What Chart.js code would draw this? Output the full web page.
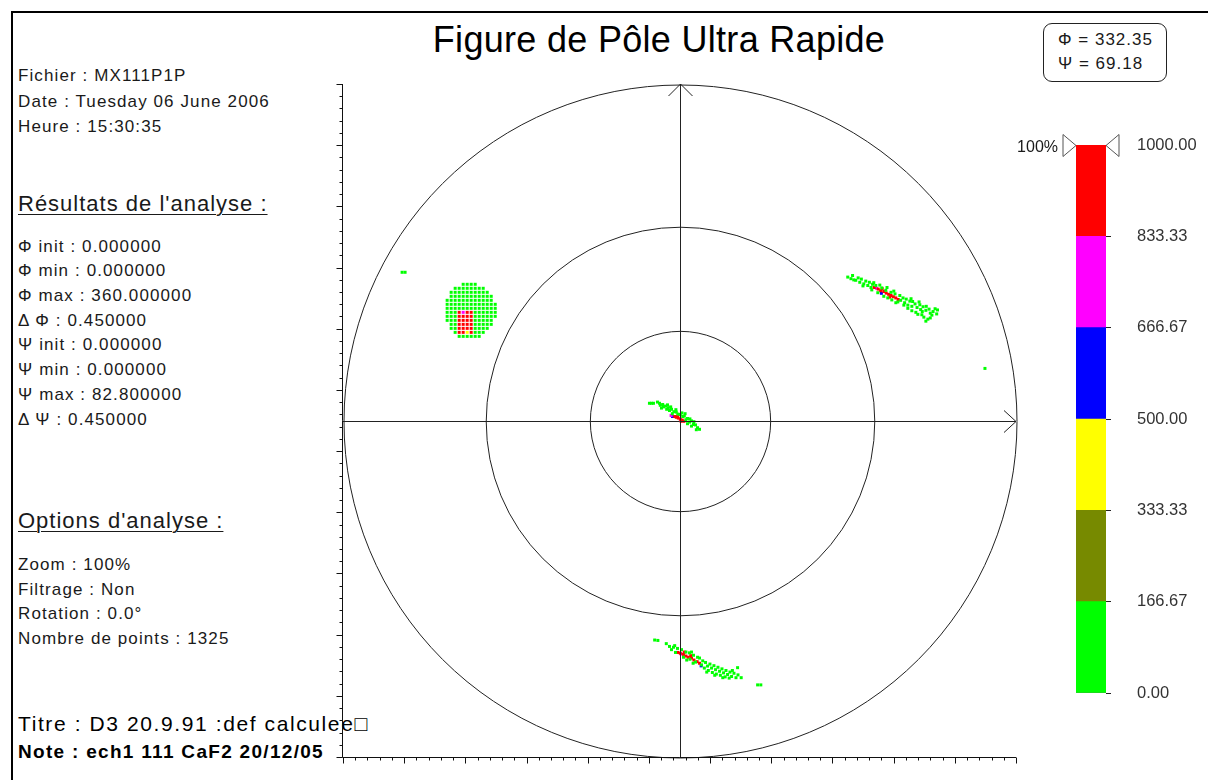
<!DOCTYPE html>
<html lang="fr">
<head>
<meta charset="utf-8">
<title>Figure de Pôle Ultra Rapide</title>
<script src="https://cdn.jsdelivr.net/npm/chart.js@4.4.1/dist/chart.umd.min.js"></script>
<style>
    html, body { margin: 0; padding: 0; background: #fff; }
    body {
        width: 1208px; height: 780px; position: relative; overflow: hidden;
        font-family: "Liberation Sans", Arial, sans-serif; color: #1a1a1a;
    }
    .frame {
        position: absolute; left: 11px; top: 11px; width: 1220px; height: 800px;
        border-left: 2px solid #000; border-top: 2px solid #000;
    }
    .t { position: absolute; white-space: nowrap; line-height: 1; }
    .small { font-size: 17px; letter-spacing: 1.1px; }
    .head { font-size: 22px; letter-spacing: 1px; text-decoration: underline; text-decoration-thickness: 1px; text-underline-offset: 3px; }
    .title { font-size: 36px; letter-spacing: 0.3px; left: 659px; transform: translateX(-50%); top: 22px; color: #000; }
    .titre { font-size: 21px; letter-spacing: 1.6px; color: #000; }
    .note { font-size: 19px; letter-spacing: 1.3px; font-weight: bold; color: #000; }
    .cursor {
        position: absolute; left: 1043px; top: 23px; width: 122px; height: 57px;
        border: 1px solid #222; border-radius: 9px;
    }
    canvas { position: absolute; }
    #pole { left: 300px; top: 60px; }
    #scale { left: 1000px; top: 120px; }
</style>
</head>
<body>
<div class="frame"></div>

<div class="t title">Figure de Pôle Ultra Rapide</div>

<div class="t small" style="left:18px;top:67px">Fichier : MX111P1P</div>
<div class="t small" style="left:18px;top:93px">Date : Tuesday 06 June 2006</div>
<div class="t small" style="left:18px;top:118px">Heure : 15:30:35</div>

<div class="t head" style="left:18px;top:193px">Résultats de l'analyse :</div>
<div class="t small" style="left:18px;top:237.6px">Φ init : 0.000000</div>
<div class="t small" style="left:18px;top:262.3px">Φ min : 0.000000</div>
<div class="t small" style="left:18px;top:287px">Φ max : 360.000000</div>
<div class="t small" style="left:18px;top:311.7px">Δ Φ : 0.450000</div>
<div class="t small" style="left:18px;top:336.4px">Ψ init : 0.000000</div>
<div class="t small" style="left:18px;top:361.1px">Ψ min : 0.000000</div>
<div class="t small" style="left:18px;top:385.8px">Ψ max : 82.800000</div>
<div class="t small" style="left:18px;top:410.5px">Δ Ψ : 0.450000</div>

<div class="t head" style="left:18px;top:510.4px">Options d'analyse :</div>
<div class="t small" style="left:18px;top:556px">Zoom : 100%</div>
<div class="t small" style="left:18px;top:580.6px">Filtrage : Non</div>
<div class="t small" style="left:18px;top:605.2px">Rotation : 0.0°</div>
<div class="t small" style="left:18px;top:629.6px">Nombre de points : 1325</div>

<div class="t titre" style="left:18px;top:713px">Titre : D3 20.9.91 :def calculee□</div>
<div class="t note" style="left:18px;top:742px">Note : ech1 111 CaF2 20/12/05</div>

<div class="cursor"></div>
<div class="t small" style="left:1058px;top:30.6px;letter-spacing:1px">Φ = 332.35</div>
<div class="t small" style="left:1058px;top:54.6px;letter-spacing:1px">Ψ = 69.18</div>

<canvas id="pole" width="740" height="720"></canvas>
<canvas id="scale" width="208" height="600"></canvas>

<script>
// projected coordinates, outer circle (Ψ = 90°) has radius 84
const AXIS_MIN = -84;
const AXIS_MAX = 84;
const TICK_COUNT = 55;      // small divisions along each axis
const MAJOR_EVERY = 5;
const psiCircles = [30, 60, 90];

// intensity classes of the colour scale
const levels = [0, 166.67, 333.33, 500, 666.67, 833.33, 1000];
const levelColors = ['#00ff00', '#778a00', '#ffff00', '#0000ff', '#ff00ff', '#ff0000'];

// round spot on the upper left, one row per Ψ step: [y, [x...]]
const discGreenRows = [
    [34, [-54, -53, -52, -51]],
    [33, [-56, -55, -54, -53, -52, -51, -50, -49]],
    [32, [-57, -56, -55, -54, -53, -52, -51, -50, -49, -48]],
    [31, [-57, -56, -55, -54, -53, -52, -51, -50, -49, -48, -47]],
    [30, [-58, -57, -56, -55, -54, -53, -52, -51, -50, -49, -48, -47]],
    [29, [-58, -57, -56, -55, -54, -53, -52, -51, -50, -49, -48, -47, -46]],
    [28, [-58, -57, -56, -55, -54, -53, -52, -51, -50, -49, -48, -47, -46]],
    [27, [-58, -57, -56, -51, -50, -49, -48, -47, -46]],
    [26, [-58, -57, -56, -51, -50, -49, -48, -47, -46]],
    [25, [-58, -57, -56, -51, -50, -49, -48, -47]],
    [24, [-57, -56, -51, -50, -49, -48, -47]],
    [23, [-57, -56, -51, -50, -49, -48]],
    [22, [-56, -51, -50, -49]],
    [21, [-55, -54, -53, -52, -51, -50]]
];
const discRedRows = [
    [27, [-55, -53, -52]],
    [26, [-55, -54, -53, -52]],
    [25, [-55, -54, -53, -52]],
    [24, [-55, -54, -53, -52]],
    [23, [-55, -54, -53, -52]],
    [22, [-55, -54, -52]]
];

// elongated spot on the upper right
const streakNEGreen = [
    [42, 35.8], [42.8, 35.4], [43.2, 36.2], [44, 35], [44.6, 35.6], [45, 34.5], [45.4, 35.3],
    [46, 34.1], [46.5, 34.8], [47, 33.7], [47.4, 34.5], [48, 32.6], [48.2, 34], [49, 33.7],
    [49.5, 31.9], [50.5, 33.1], [51, 31], [51.5, 32.5], [52, 30.6], [52.8, 32], [53, 30.1],
    [53.8, 31.6], [54.5, 29.6], [55, 31.2], [55.2, 30], [55.8, 30.6], [56.2, 29.4], [56.6, 30.3],
    [57, 28.8], [57.5, 29.8], [58, 28.5], [58.2, 29.7], [58.8, 29.1], [59.3, 28.2], [60, 28.9],
    [60.2, 27.7], [60.8, 28.4], [61.5, 27.5], [61.6, 28.5], [62.3, 27.8], [62.6, 26.8], [63.3, 27.2],
    [63.8, 27.9], [64.2, 26.6], [57, 28], [58, 27.4], [59, 27], [59.5, 26.5], [60.5, 26.4],
    [61, 25.8], [62, 25.3], [61.5, 24.8], [62.6, 25.6],
    [43.5, 35.1], [45.8, 33.6], [47.8, 33.2], [48.5, 34.4], [50, 33.8], [51.8, 33.2], [53.5, 32.3],
    [54, 29.4], [56, 28.8], [57.8, 30.4], [59.8, 29.6], [60.6, 27.2], [63, 26.3], [64.4, 27.6]
];
const streakNERed = [
    [48.6, 33.2], [49.6, 32.8], [50.2, 32.4], [51, 32.2], [51.6, 31.8], [52.2, 31.5],
    [52.8, 31.2], [53.4, 30.9], [54, 30.6], [54.6, 30.2], [50.6, 32.9], [52.5, 30.8]
];

// small spot at the centre
const centreGreen = [
    [-5.5, 4.6], [-5, 4.3], [-4.8, 3.8], [-4.2, 4], [-4, 3.4], [-3.5, 3.6], [-3.2, 2.8],
    [-2.8, 3.2], [-2.5, 2.5], [-2, 2.8], [-1.4, 2.2], [-0.8, 2.1], [-0.4, 1.6], [0.2, 1.5],
    [0.8, 1], [1.2, 1.1], [1.6, 0.2], [2, 0.5], [2.5, -0.4], [3, -0.1], [3.5, -1], [4, -1.1],
    [4.5, -1.8], [5, -2.2], [3, -1.4], [2, -0.8], [-7.5, 4.3], [-7, 4.3], [-6.5, 4.3],
    [-4.5, 3.1], [-3, 3.9], [-2.2, 3.4], [-1.8, 1.7], [-0.9, 2.7], [0.6, 1.9], [1.4, 1.7],
    [2.6, 0.4], [3.6, -0.3], [4.2, -2.3]
];
const centreRed = [
    [-1.2, 1], [-0.8, 0.8], [-0.3, 0.6], [0.2, 0.3], [0.7, 0.1], [1.1, -0.2], [-0.5, 1.1], [0.4, -0.2]
];

// elongated spot at the bottom
const streakSGreen = [
    [-6.2, -54.8], [-5.4, -54.9], [-3.3, -55.7], [-2.5, -56.4], [-2, -57.2], [-1.5, -56.6],
    [-1, -57.9], [-0.5, -56.9], [0.5, -57.2], [1, -59.1], [1.6, -57.8], [2.5, -58], [2.6, -59.6],
    [3.5, -58.6], [4, -60.3], [5, -59.3], [5.5, -61], [6.2, -61.8], [6.5, -60.4], [7, -61.3],
    [7.2, -62.4], [7.6, -60.8], [8, -61.8], [8.2, -62.9], [8.6, -61.2], [9, -62.2], [9.2, -63.3],
    [9.6, -61.6], [10, -62.6], [10.2, -63.6], [10.6, -62], [11, -63], [11.4, -64], [11.6, -62.4],
    [12, -63.4], [12.6, -62.8], [13, -63.9], [13.6, -63.1], [14.1, -64.2], [14.5, -61.7],
    [14.6, -63.5], [15.4, -64.2], [19.5, -66], [20.3, -66],
    [-1.2, -56.2], [3, -57.8], [4.5, -59.1], [5.8, -60], [6.8, -62.8], [8.8, -63.6],
    [10.8, -64.2], [12.4, -64.3], [13.2, -62.4], [3.4, -60.6], [1.8, -59.8]
];
const streakSRed = [
    [-0.4, -57.9], [0.2, -58.1], [1, -58.4], [1.6, -58.8], [2.2, -59.1], [3, -59.3],
    [3.6, -59.8], [4.4, -60.2], [5, -60.6], [1.2, -57.8], [2.8, -58.7]
];

const strayGreen = [[-69.25, 37], [-68.5, 37], [76.25, 13]];
const magentaPts = [[-54, 27], [49.2, 33], [-2.1, 1.25], [0.4, -58.3]];
const bluePts = [[50.4, 31.75], [5.4, -61.25], [-1.75, 1]];
const yellowPts = [[-53, 22]];

const FONT = '"Liberation Sans", Arial, sans-serif';

function fromRows(rows) {
    const out = [];
    rows.forEach(([y, xs]) => xs.forEach(x => out.push({ x: x, y: y })));
    return out;
}
function toXY(pairs) {
    return pairs.map(([x, y]) => ({ x: x, y: y }));
}

const greenData = fromRows(discGreenRows).concat(
    toXY(streakNEGreen), toXY(centreGreen), toXY(streakSGreen), toXY(strayGreen));
const redData = fromRows(discRedRows).concat(
    toXY(streakNERed), toXY(centreRed), toXY(streakSRed));

// circles, centre cross with arrows and the two ticked axes
const poleFrame = {
    id: 'poleFrame',
    afterDatasetsDraw(chart) {
        const { ctx, chartArea: a, scales: { x, y } } = chart;
        const cx = Math.round(x.getPixelForValue(0)) + 0.5;
        const cy = Math.round(y.getPixelForValue(0)) + 0.5;
        ctx.save();
        ctx.strokeStyle = '#222';
        ctx.lineWidth = 1;

        psiCircles.forEach(psi => {
            const r = x.getPixelForValue(AXIS_MAX * Math.tan(psi * Math.PI / 360)) - x.getPixelForValue(0);
            ctx.beginPath();
            ctx.arc(cx, cy, r, 0, Math.PI * 2);
            ctx.stroke();
        });

        const xl = x.getPixelForValue(AXIS_MIN), xr = x.getPixelForValue(AXIS_MAX);
        const yt = y.getPixelForValue(AXIS_MAX), yb = y.getPixelForValue(AXIS_MIN);
        ctx.beginPath();
        ctx.moveTo(xl, cy); ctx.lineTo(xr, cy);
        ctx.moveTo(xr - 12, cy - 11); ctx.lineTo(xr, cy); ctx.lineTo(xr - 12, cy + 11);
        ctx.moveTo(cx, yb); ctx.lineTo(cx, yt);
        ctx.moveTo(cx - 12, yt + 12); ctx.lineTo(cx, yt); ctx.lineTo(cx + 12, yt + 12);
        ctx.stroke();

        // ticked frame on the left and bottom
        const ax = Math.round(a.left) - 0.5, ay = Math.round(a.bottom) + 0.5;
        ctx.strokeStyle = '#111';
        ctx.beginPath();
        ctx.moveTo(ax, a.top); ctx.lineTo(ax, ay); ctx.lineTo(a.right, ay);
        const step = (AXIS_MAX - AXIS_MIN) / TICK_COUNT;
        for (let i = 0; i <= TICK_COUNT; i++) {
            const len = i % MAJOR_EVERY === 0 ? 6 : 3;
            const py = Math.round(y.getPixelForValue(AXIS_MIN + i * step)) + 0.5;
            ctx.moveTo(ax, py); ctx.lineTo(ax - len, py);
            const px = Math.round(x.getPixelForValue(AXIS_MIN + i * step)) + 0.5;
            ctx.moveTo(px, ay); ctx.lineTo(px, ay + len);
        }
        ctx.stroke();
        ctx.restore();
    }
};

function cellSet(label, data, color) {
    return { label: label, data: data, backgroundColor: color, pointStyle: 'rect', pointRadius: 2.12, pointBorderWidth: 0 };
}

new Chart(document.getElementById('pole'), {
    type: 'scatter',
    data: {
        datasets: [
            cellSet('0.00 – 166.67', greenData, levelColors[0]),
            cellSet('333.33 – 500.00', toXY(yellowPts), levelColors[2]),
            cellSet('833.33 – 1000.00', redData, levelColors[5]),
            cellSet('666.67 – 833.33', toXY(magentaPts), levelColors[4]),
            cellSet('500.00 – 666.67', toXY(bluePts), levelColors[3])
        ]
    },
    options: {
        responsive: false,
        animation: false,
        devicePixelRatio: 1,
        events: [],
        layout: { padding: { left: 43, top: 24, right: 24, bottom: 23 } },
        plugins: { legend: { display: false }, tooltip: { enabled: false } },
        scales: {
            x: { type: 'linear', min: AXIS_MIN, max: AXIS_MAX, display: false },
            y: { type: 'linear', min: AXIS_MIN, max: AXIS_MAX, display: false }
        }
    },
    plugins: [poleFrame]
});

// "100%" marker and the two triangles at the top of the colour scale
const scaleMarks = {
    id: 'scaleMarks',
    afterDraw(chart) {
        const { ctx, chartArea: a, scales: { y } } = chart;
        const top = Math.round(y.getPixelForValue(levels[levels.length - 1])) + 0.5;
        ctx.save();
        ctx.fillStyle = '#fff';
        ctx.strokeStyle = '#555';
        ctx.lineWidth = 1;
        ctx.beginPath();
        ctx.moveTo(a.left - 13, top - 11); ctx.lineTo(a.left, top); ctx.lineTo(a.left - 13, top + 11); ctx.closePath();
        ctx.fill(); ctx.stroke();
        ctx.beginPath();
        ctx.moveTo(a.right + 13, top - 11); ctx.lineTo(a.right, top); ctx.lineTo(a.right + 13, top + 11); ctx.closePath();
        ctx.fill(); ctx.stroke();
        ctx.fillStyle = '#1a1a1a';
        ctx.font = '16px ' + FONT;
        ctx.textAlign = 'right';
        ctx.textBaseline = 'middle';
        ctx.fillText('100%', a.left - 18, top + 2);
        ctx.restore();
    }
};

const bandSets = levelColors.map((c, i) => ({
    label: levels[i].toFixed(2),
    data: [[levels[i], levels[i + 1]]],
    backgroundColor: c,
    borderWidth: 0,
    grouped: false,
    barPercentage: 1,
    categoryPercentage: 1
}));
bandSets.push({
    label: 'outline',
    data: [[levels[0], levels[levels.length - 1]]],
    backgroundColor: 'rgba(0,0,0,0)',
    borderColor: '#000',
    borderWidth: 1,
    borderSkipped: false,
    grouped: false,
    barPercentage: 1,
    categoryPercentage: 1
});

new Chart(document.getElementById('scale'), {
    type: 'bar',
    data: { labels: [''], datasets: bandSets },
    options: {
        responsive: false,
        animation: false,
        devicePixelRatio: 1,
        events: [],
        layout: { padding: { left: 76, top: 25, right: 0, bottom: 27 } },
        plugins: { legend: { display: false }, tooltip: { enabled: false } },
        scales: {
            x: { display: false },
            y: {
                position: 'right',
                min: levels[0],
                max: levels[levels.length - 1],
                afterBuildTicks: s => { s.ticks = levels.map(v => ({ value: v })); },
                afterFit: s => { s.width = 102; s.paddingTop = 0; s.paddingBottom = 0; },
                border: { display: false },
                grid: { drawOnChartArea: false, tickLength: 5, color: '#222' },
                ticks: {
                    padding: 26,
                    color: '#333',
                    font: { family: FONT, size: 16.5 },
                    callback: v => Number(v).toFixed(2)
                }
            }
        }
    },
    plugins: [scaleMarks]
});
</script>
</body>
</html>
